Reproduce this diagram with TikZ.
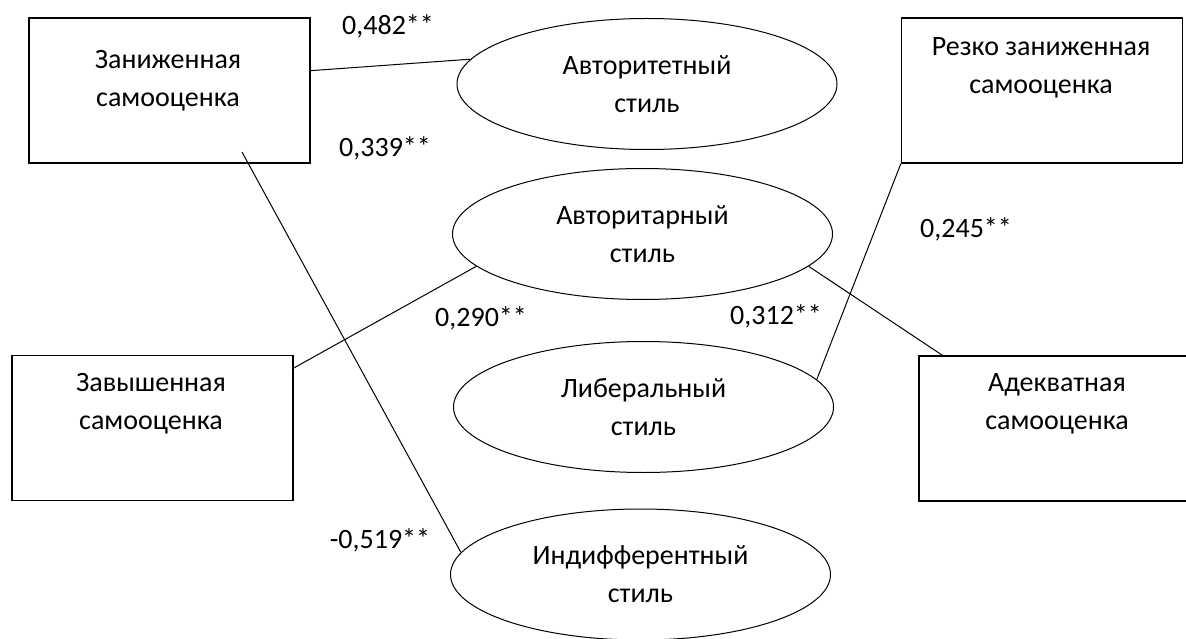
\documentclass[tikz,border=0pt]{standalone}
\usepackage{fontspec}
\setmainfont{Carlito}
\usetikzlibrary{shapes.geometric}
\tikzset{
  selfbox/.style={draw,line width=1.3pt,minimum width=281pt,minimum height=145pt,inner sep=0pt},
  stylebox/.style={ellipse,draw,line width=1pt,minimum width=380pt,minimum height=131pt,align=center,inner sep=0pt},
  boxtext/.style={align=center},
  coef/.style={inner sep=0pt},
  link/.style={line width=1pt}
}
\begin{document}
\begin{tikzpicture}[x=1pt,y=-1pt,font=\fontsize{28}{38}\selectfont]
\useasboundingbox[fill=white] (0,0) rectangle (1186,639);
% self-esteem boxes
\node[selfbox] (low) at (169.5,90.5) {};
\node[selfbox] (sharp) at (1042,90.5) {};
\node[selfbox] (high) at (152.5,428) {};
\node[selfbox] (adequate) at (1059.5,428.5) {};
\node[boxtext] at (168,81) {Заниженная\\самооценка};
\node[boxtext] at (1041,68) {Резко заниженная\\самооценка};
\node[boxtext] at (151,404) {Завышенная\\самооценка};
\node[boxtext] at (1057,404) {Адекватная\\самооценка};
% parenting styles
\node[stylebox] (authoritative) at (647,84) {Авторитетный\\стиль};
\node[stylebox] (authoritarian) at (642.5,234) {Авторитарный\\стиль};
\node[stylebox] (liberal) at (643.5,407) {Либеральный\\стиль};
\node[stylebox] (indifferent) at (640.5,574.5) {Индифферентный\\стиль};
% links
\coordinate (lowfoot) at (242,152);
\draw[link] (low.8) -- (authoritative.172.5);
\draw[link] (lowfoot) -- (indifferent.173);
\draw[link] (authoritarian.191) -- (high.23);
\draw[link] (authoritarian.-11) -- (adequate.148);
\draw[link] (sharp.south west) -- (liberal.9);
% coefficients
\node[coef] at (388,26) {0,482**};
\node[coef] at (385,148) {0,339**};
\node[coef] at (481,318) {0,290**};
\node[coef] at (776,316) {0,312**};
\node[coef] at (966,229) {0,245**};
\node[coef] at (380,540) {-0,519**};
\end{tikzpicture}
\end{document}
